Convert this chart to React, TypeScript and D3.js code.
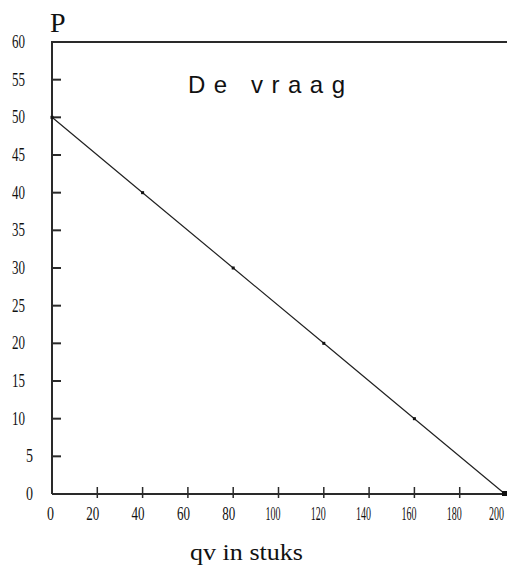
import React from 'react'
import * as d3 from 'd3'

// demand curve: price P against quantity
const quantities = [0, 40, 80, 120, 160, 200]
const prices = [50, 40, 30, 20, 10, 0]
const xTicks = [0, 20, 40, 60, 80, 100, 120, 140, 160, 180, 200]
const yTicks = [0, 5, 10, 15, 20, 25, 30, 35, 40, 45, 50, 55, 60]
const title = 'De vraag'
const xTitle = 'qv in stuks'
const yTitle = 'P'

export default function App () {
  const width = 507
  const height = 567
  const margin = { top: 42, bottom: 73, left: 52 }

  const x = d3.scaleLinear()
    .domain([0, 200])
    .range([margin.left, 505])

  const y = d3.scaleLinear()
    .domain([0, 60])
    .range([height - margin.bottom, margin.top])

  const points = quantities.map((q, i) => ({ q, p: prices[i] }))

  const line = d3.line<{ q: number, p: number }>()
    .x(d => x(d.q))
    .y(d => y(d.p))

  const axisColor = '#2a2a2a'
  const labelFont = 'Liberation Serif, serif'
  const digitWidth = (t: number) => (t < 10 ? 7 : t < 100 ? 13 : 15)

  return (
    <svg width={width} height={height} style={{ position: 'absolute', left: 0, top: 0, background: '#fff' }}>
      {/* top border */}
      <line x1={x(0)} x2={width} y1={y(60)} y2={y(60)} stroke={axisColor} strokeWidth={2} />

      {/* y axis */}
      <line x1={x(0)} x2={x(0)} y1={y(60) - 1} y2={y(0)} stroke={axisColor} strokeWidth={2} />
      {yTicks.filter(t => t > 0 && t < 60).map(t => (
        <rect key={'yt' + t} x={x(0)} y={y(t) - 1} width={9} height={2} fill={axisColor} />
      ))}
      {yTicks.map(t => (
        <text
          key={'y' + t}
          x={t < 10 ? 33 : 25}
          y={y(t) + 6}
          textAnchor='end'
          fontFamily={labelFont}
          fontSize={18}
          textLength={digitWidth(t)}
          lengthAdjust='spacingAndGlyphs'
          fill='#111'
        >{t}</text>
      ))}

      {/* x axis */}
      <line x1={x(0)} x2={width} y1={y(0)} y2={y(0)} stroke={axisColor} strokeWidth={2} />
      {xTicks.map(t => (
        <g key={'x' + t}>
          {t > 0 && t < 200 && (
            <line x1={x(t)} x2={x(t)} y1={y(0) - 7} y2={y(0) + 4} stroke={axisColor} strokeWidth={1.5} />
          )}
          <text
            x={Math.min(x(t) + 2, width - 3)}
            y={y(0) + 26}
            textAnchor='end'
            fontFamily={labelFont}
            fontSize={18}
            textLength={digitWidth(t)}
            lengthAdjust='spacingAndGlyphs'
            fill='#111'
          >{t}</text>
        </g>
      ))}

      {/* demand line */}
      <path d={line(points) || ''} fill='none' stroke='#222' strokeWidth={1.2} />
      {points.map((d, i) => (
        <rect
          key={'pt' + i}
          x={x(d.q) - (i === points.length - 1 ? 3 : 1.5)}
          y={y(d.p) - (i === points.length - 1 ? 3 : 1.5)}
          width={i === points.length - 1 ? 5 : 3}
          height={i === points.length - 1 ? 5 : 3}
          fill='#111'
        />
      ))}

      {/* titles */}
      <text x={50} y={32} fontFamily={labelFont} fontSize={28} fill='#111'>{yTitle}</text>
      <text
        x={188}
        y={93}
        fontFamily='Liberation Sans, Arial, sans-serif'
        fontSize={24}
        textLength={157}
        lengthAdjust='spacing'
        fill='#111'
      >{title}</text>
      <text
        x={190}
        y={560}
        fontFamily={labelFont}
        fontSize={24}
        textLength={113}
        lengthAdjust='spacingAndGlyphs'
        fill='#111'
      >{xTitle}</text>
    </svg>
  )
}
